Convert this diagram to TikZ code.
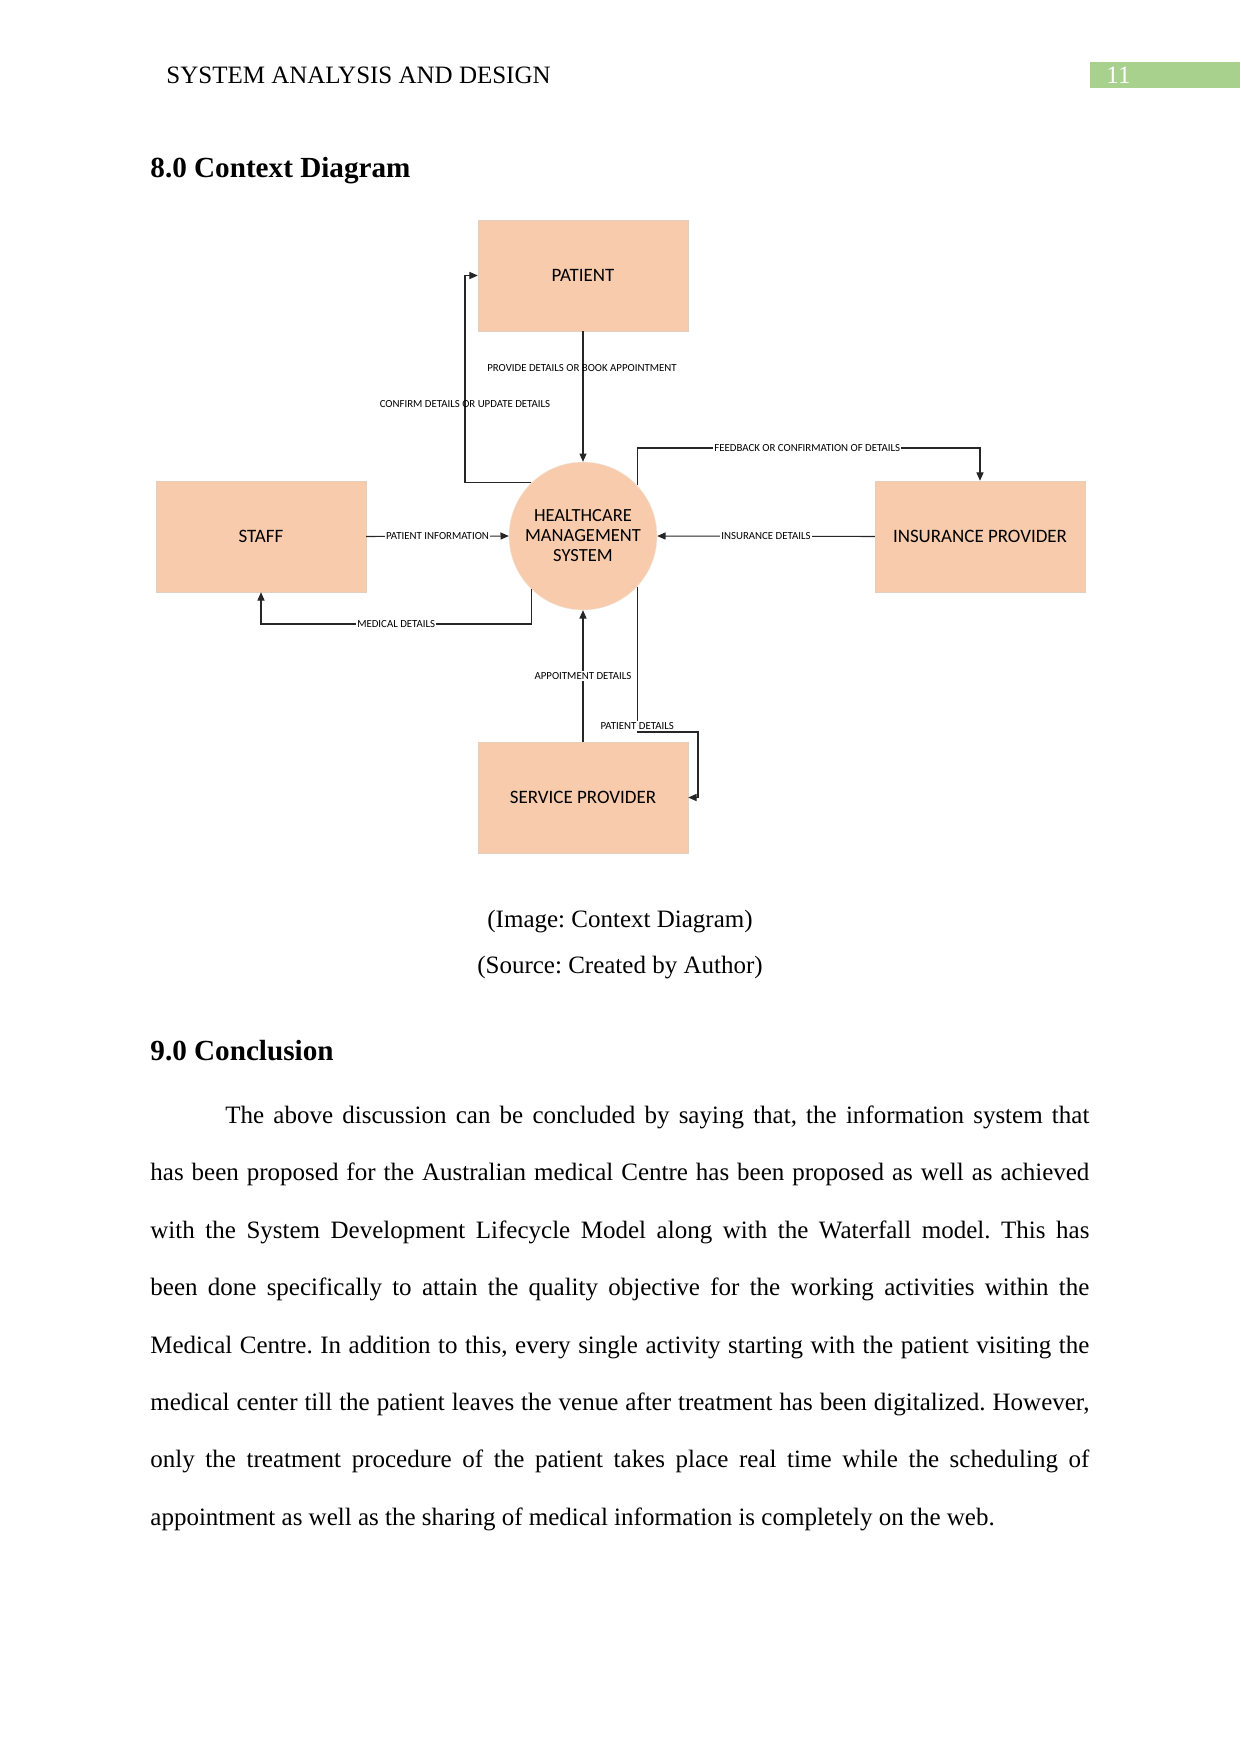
\documentclass[tikz,border=0pt]{standalone}
\usepackage{fontspec}
\setmainfont{Liberation Serif}
\newfontfamily\diag{Carlito}
\usetikzlibrary{arrows.meta}
\definecolor{peach}{HTML}{F7CBAC}
\definecolor{pgreen}{HTML}{A9D18E}
\frenchspacing
\begin{document}
\begin{tikzpicture}[x=0.48pt,y=-0.48pt,
  entity/.style={fill=peach,draw=peach!85!black!60,line width=0.2pt,minimum width=100.8pt,minimum height=53.3pt,inner sep=0pt,font=\diag\fontsize{9.1}{10}\selectfont},
  proc/.style={circle,fill=peach,draw=peach!85!black!30,line width=0.2pt,minimum size=71pt,inner sep=0pt,align=center,font=\diag\fontsize{8.9}{9.6}\selectfont},
  flow/.style={draw=black!85,line width=0.5pt,-{Triangle[length=4pt,width=3.4pt]}},
  lbl/.style={font=\diag\fontsize{5.2}{5.5}\selectfont,inner sep=0.6pt},
  lblw/.style={lbl,fill=white},
  body/.style={anchor=base west,inner sep=0pt,font=\fontsize{12}{14}\selectfont},
  head/.style={anchor=base west,inner sep=0pt,font=\bfseries\fontsize{14}{16}\selectfont}]
\useasboundingbox (0,0) rectangle (1241,1754);
% header
\node[body] (hdr) at (166,83) {SYSTEM ANALYSIS AND DESIGN};
\fill[pgreen] (1090,62) rectangle (1240,88);
\node[body,text=white] (pnum) at (1106,83) {11};
\node[head] (h8) at (150,177) {8.0 Context Diagram};
% diagram
\node[entity] (pat) at (583,275.5) {PATIENT};
\node[entity] (staff) at (261,536.5) {STAFF};
\node[entity] (ins) at (980,536.5) {INSURANCE PROVIDER};
\node[entity] (sp) at (583,797.5) {SERVICE PROVIDER};
\node[proc] (hms) at (583,536) {HEALTHCARE\\MANAGEMENT\\SYSTEM};
\coordinate (c1) at (465,483);
\coordinate (fb) at (980,448);
\coordinate (md) at (261,624);
\coordinate (pd) at (698,732);
\draw[flow] (pat.south) -- (hms.north);
\node[lbl] (l1) at (582,368) {PROVIDE DETAILS OR BOOK APPOINTMENT};
\draw[flow] (hms.134) -- (hms.134 -| c1) |- (pat.west);
\node[lbl] (l2) at (465,404) {CONFIRM DETAILS OR UPDATE DETAILS};
\draw[flow] (hms.43) |- node[lblw,pos=0.748] (l3) {FEEDBACK OR CONFIRMATION OF DETAILS} (fb) -- (ins.north);
\draw[flow] (staff.east) -- node[lblw] (l4) {PATIENT INFORMATION} (hms.west);
\draw[flow] (ins.west) -- node[lblw] (l5) {INSURANCE DETAILS} (hms.east);
\draw[flow] (hms.226) |- node[lblw,pos=0.75] (l6) {MEDICAL DETAILS} (md) -- (staff.south);
\draw[flow] (sp.north) -- node[lblw] (l7) {APPOITMENT DETAILS} (hms.south);
\draw[flow] (hms.317) |- node[lblw,pos=0.5,anchor=south,inner sep=0.8pt] (l8) {PATIENT DETAILS} (pd) |- (sp.east);
% captions
\node[body,anchor=base] (cap1) at (620,927) {(Image: Context Diagram)};
\node[body,anchor=base] (cap2) at (620,973) {(Source: Created by Author)};
\node[head] (h9) at (150,1060) {9.0 Conclusion};
% paragraph
\node[body] (p1) at (225,1123) {\makebox[414.7pt][s]{The above discussion can be concluded by saying that, the information system that}};
\node[body] (p2) at (150,1180) {\makebox[450.7pt][s]{has been proposed for the Australian medical Centre has been proposed as well as achieved}};
\node[body] (p3) at (150,1238) {\makebox[450.7pt][s]{with the System Development Lifecycle Model along with the Waterfall model. This has}};
\node[body] (p4) at (150,1295) {\makebox[450.7pt][s]{been done specifically to attain the quality objective for the working activities within the}};
\node[body] (p5) at (150,1353) {\makebox[450.7pt][s]{Medical Centre. In addition to this, every single activity starting with the patient visiting the}};
\node[body] (p6) at (150,1410) {\makebox[450.7pt][s]{medical center till the patient leaves the venue after treatment has been digitalized. However,}};
\node[body] (p7) at (150,1467) {\makebox[450.7pt][s]{only the treatment procedure of the patient takes place real time while the scheduling of}};
\node[body] (p8) at (150,1525) {appointment as well as the sharing of medical information is completely on the web.};
\end{tikzpicture}
\end{document}
